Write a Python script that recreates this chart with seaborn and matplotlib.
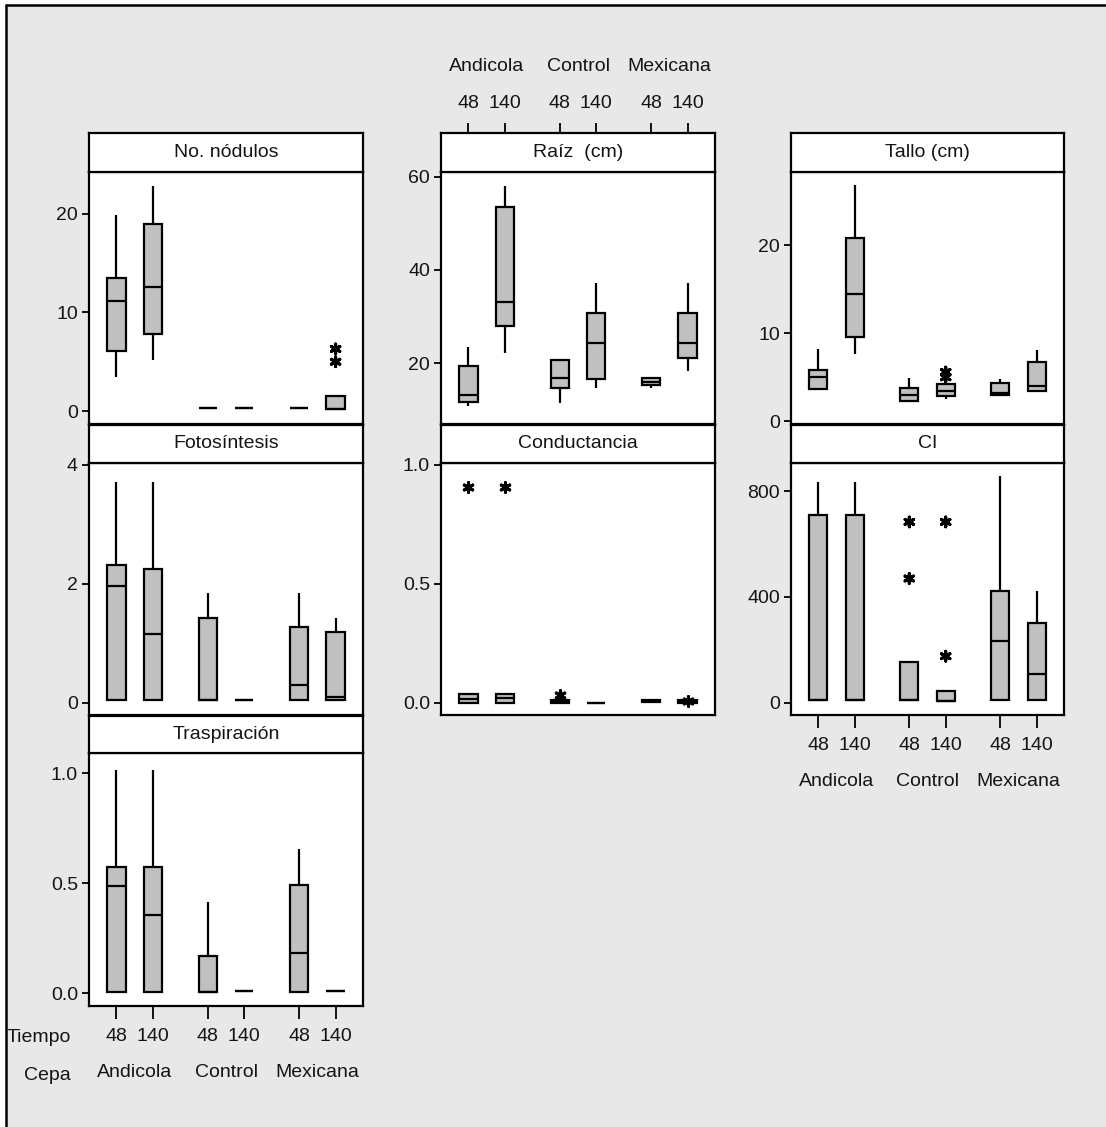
import pandas as pd
import matplotlib.pyplot as plt
import seaborn as sns
from matplotlib.patches import Rectangle
from matplotlib.lines import Line2D

# groups: Andicola 48, Andicola 140, Control 48, Control 140, Mexicana 48, Mexicana 140
cepas = ['Andicola', 'Control', 'Mexicana']
tiempos = ['48', '140']

# five-number summaries per group: [whisker low, Q1, median, Q3, whisker high]
nodulos = [[3.5, 6.1, 11.1, 13.5, 19.8], [5.2, 7.8, 12.6, 18.9, 22.8],
           [0.3, 0.3, 0.3, 0.3, 0.3], [0.3, 0.3, 0.3, 0.3, 0.3],
           [0.3, 0.3, 0.3, 0.3, 0.3], [0.2, 0.2, 0.2, 1.5, 1.5]]
nodulos_out_grp = [5, 5]
nodulos_out_val = [5.0, 6.3]

raiz = [[10.8, 11.7, 13.2, 19.4, 23.4], [22.2, 28.0, 33.2, 53.5, 58.1],
        [11.5, 14.7, 16.8, 20.7, 20.7], [14.7, 16.7, 24.4, 30.7, 37.2],
        [14.8, 15.4, 16.0, 16.8, 16.8], [18.3, 21.1, 24.3, 30.7, 37.2]]

tallo = [[3.7, 3.7, 5.0, 5.8, 8.2], [7.6, 9.6, 14.4, 20.8, 26.8],
         [2.3, 2.3, 3.0, 3.8, 4.9], [2.5, 2.9, 3.5, 4.2, 4.2],
         [3.0, 3.0, 3.2, 4.4, 4.8], [3.4, 3.4, 4.0, 6.7, 8.1]]
tallo_out_grp = [3, 3]
tallo_out_val = [5.0, 5.6]

foto = [[0.04, 0.04, 1.96, 2.31, 3.71], [0.04, 0.04, 1.16, 2.25, 3.71],
        [0.04, 0.04, 0.04, 1.43, 1.84], [0.04, 0.04, 0.04, 0.04, 0.04],
        [0.04, 0.04, 0.29, 1.27, 1.84], [0.04, 0.04, 0.09, 1.18, 1.43]]

cond = [[0.0, 0.0, 0.017, 0.035, 0.035], [0.0, 0.0, 0.02, 0.035, 0.035],
        [0.0, 0.0, 0.005, 0.012, 0.012], [0.0, 0.0, 0.0, 0.0, 0.0],
        [0.002, 0.002, 0.007, 0.012, 0.012], [0.0, 0.0, 0.005, 0.01, 0.01]]
cond_out_grp = [0, 1, 2, 5]
cond_out_val = [0.906, 0.906, 0.03, 0.008]

ci = [[10, 10, 10, 709, 835], [10, 10, 10, 709, 835],
      [10, 10, 10, 155, 155], [6, 6, 6, 45, 45],
      [10, 10, 233, 422, 857], [10, 10, 108, 300, 422]]
ci_out_grp = [2, 2, 3, 3]
ci_out_val = [470, 684, 176, 684]

trasp = [[0.007, 0.007, 0.489, 0.571, 1.015], [0.007, 0.007, 0.356, 0.571, 1.015],
         [0.007, 0.007, 0.007, 0.171, 0.416], [0.01, 0.01, 0.01, 0.01, 0.01],
         [0.007, 0.007, 0.182, 0.492, 0.655], [0.01, 0.01, 0.01, 0.01, 0.01]]

sns.set_style('ticks')
plt.rcParams['font.family'] = ['Liberation Sans', 'DejaVu Sans']
FS = 14
plt.rcParams['font.size'] = FS
INK = '#141414'
plt.rcParams['text.color'] = INK
plt.rcParams['xtick.color'] = 'black'
plt.rcParams['ytick.color'] = 'black'
plt.rcParams['xtick.labelcolor'] = INK
plt.rcParams['ytick.labelcolor'] = INK

W, H = 1106, 1127
fig = plt.figure(figsize=(W / 100, H / 100), dpi=100, facecolor='white')
fig.patches.append(Rectangle((6 / W, 0), 1, 1 - 5 / H, transform=fig.transFigure,
                             facecolor='#e8e8e8', edgecolor='none', zorder=-10))
fig.add_artist(Line2D([6 / W, 6 / W], [0, 1 - 5 / H], color='black', lw=1.8))
fig.add_artist(Line2D([6 / W, 1], [1 - 5 / H, 1 - 5 / H], color='black', lw=1.8))

col_left = [89, 441, 791]
col_w = [274, 274, 273]
strip_top = [133, 425, 716]
strip_bot = [172, 463, 753]
plot_bot = [424, 715, 1006]
pos = [-0.2, 0.2, 0.8, 1.2, 1.8, 2.2]
pos_labels = ['48', '140'] * 3
pal = {'48': '#c0c0c0', '140': '#c0c0c0'}


def to_frame(stats):
    rows = []
    for g, vals in enumerate(stats):
        for v in vals:
            rows.append({'Cepa': cepas[g // 2], 'Tiempo': tiempos[g % 2], 'valor': v})
    return pd.DataFrame(rows)


def panel(col, row, title, stats, ylim, yticks, ylabels,
          out_grp=None, out_val=None, bottom=False, top=False):
    left, w = col_left[col], col_w[col]
    ax = fig.add_axes([left / W, 1 - plot_bot[row] / H, w / W, (plot_bot[row] - strip_bot[row]) / H])
    axs = fig.add_axes([left / W, 1 - strip_bot[row] / H, w / W, (strip_bot[row] - strip_top[row]) / H])

    df = to_frame(stats)
    sns.boxplot(data=df, x='Cepa', y='valor', hue='Tiempo', order=cepas, hue_order=tiempos,
                palette=pal, saturation=1, width=0.8, gap=0.5, whis=(0, 100),
                showcaps=False, linecolor='black', linewidth=1.6, legend=False, ax=ax)
    if out_grp:
        dout = pd.DataFrame({'Cepa': [cepas[g // 2] for g in out_grp],
                             'Tiempo': [tiempos[g % 2] for g in out_grp],
                             'valor': out_val})
        sns.stripplot(data=dout, x='Cepa', y='valor', hue='Tiempo', order=cepas,
                      hue_order=tiempos, dodge=True, jitter=False, marker=(6, 2, 0),
                      size=7, palette={'48': 'black', '140': 'black'}, edgecolor='black',
                      linewidth=2.2, legend=False, zorder=5, ax=ax)

    ax.set_xlim(-0.5, 2.5)
    ax.set_ylim(*ylim)
    ax.set_xlabel('')
    ax.set_ylabel('')
    ax.set_facecolor('white')
    ax.set_yticks(yticks, ylabels)
    ax.tick_params(axis='y', direction='out', length=5, width=1.3, pad=3, labelsize=FS)
    if bottom:
        ax.set_xticks(pos, pos_labels)
        ax.tick_params(axis='x', direction='out', length=9, width=1.3, pad=7, labelsize=FS)
        for i, c in enumerate(cepas):
            ax.annotate(c, xy=(i, 0), xycoords=('data', 'axes fraction'), xytext=(0, -48),
                        textcoords='offset points', ha='center', va='center', fontsize=FS)
    else:
        ax.set_xticks([])
    for sp in ax.spines.values():
        sp.set_visible(True)
        sp.set_linewidth(1.6)
        sp.set_color('black')

    axs.set_xlim(-0.5, 2.5)
    axs.set_ylim(0, 1)
    axs.set_facecolor('white')
    axs.set_yticks([])
    if top:
        axs.xaxis.tick_top()
        axs.set_xticks(pos, pos_labels)
        axs.tick_params(axis='x', direction='out', length=7, width=1.3, pad=8, labelsize=FS)
        for i, c in enumerate(cepas):
            axs.annotate(c, xy=(i, 1), xycoords=('data', 'axes fraction'), xytext=(0, 48),
                         textcoords='offset points', ha='center', va='center', fontsize=FS)
    else:
        axs.set_xticks([])
    for sp in axs.spines.values():
        sp.set_linewidth(1.6)
        sp.set_color('black')
    axs.text(0.5, 0.5, title, ha='center', va='center', fontsize=FS, transform=axs.transAxes)
    return ax


panel(0, 0, 'No. nódulos', nodulos, (-1.3, 24.2), [0, 10, 20], ['0', '10', '20'],
      nodulos_out_grp, nodulos_out_val)
panel(1, 0, 'Raíz  (cm)', raiz, (7.0, 61.0), [20, 40, 60], ['20', '40', '60'], top=True)
panel(2, 0, 'Tallo (cm)', tallo, (-0.3, 28.3), [0, 10, 20], ['0', '10', '20'],
      tallo_out_grp, tallo_out_val)
panel(0, 1, 'Fotosíntesis', foto, (-0.21, 4.03), [0, 2, 4], ['0', '2', '4'])
panel(1, 1, 'Conductancia', cond, (-0.052, 1.007), [0.0, 0.5, 1.0], ['0.0', '0.5', '1.0'],
      cond_out_grp, cond_out_val)
panel(2, 1, 'CI', ci, (-46.5, 907), [0, 400, 800], ['0', '400', '800'],
      ci_out_grp, ci_out_val, bottom=True)
panel(0, 2, 'Traspiración', trasp, (-0.058, 1.091), [0.0, 0.5, 1.0], ['0.0', '0.5', '1.0'],
      bottom=True)

fig.text(71 / W, 1 - 1038 / H, 'Tiempo', ha='right', va='center', fontsize=FS)
fig.text(71 / W, 1 - 1075 / H, 'Cepa', ha='right', va='center', fontsize=FS)

fig.savefig('out.png', dpi=100, facecolor=fig.get_facecolor())
